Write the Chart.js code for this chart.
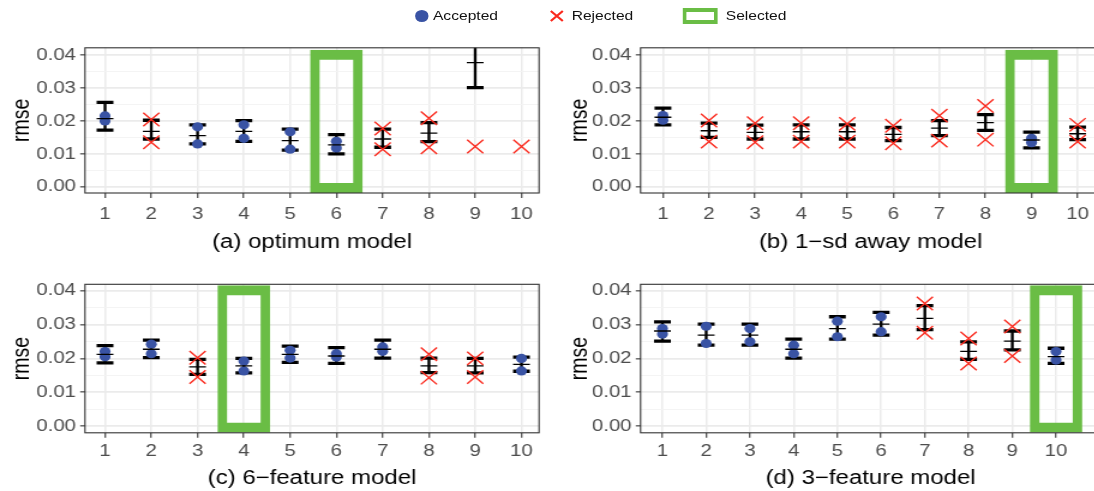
<!DOCTYPE html>
<html><head><meta charset="utf-8">
<script src="https://cdn.jsdelivr.net/npm/chart.js@4.4.0/dist/chart.umd.min.js"></script>
<style>
html,body{margin:0;padding:0;background:#fff;overflow:hidden;width:1094px;height:491px;}
#stage{position:absolute;left:0;top:0;width:925px;height:491px;transform:scaleX(1.2);transform-origin:0 0;font-family:'Liberation Sans',Arial,sans-serif;}
canvas{position:absolute;}
.lg{position:absolute;font-size:13px;line-height:16px;top:8px;color:#111;white-space:nowrap;}
</style></head><body>
<div id="stage">
  <div style="position:absolute;left:345.6px;top:10.2px;width:11.7px;height:11.7px;border-radius:50%;background:#3953a4;"></div>
  <div class="lg" style="left:360.8px">Accepted</div>
  <svg style="position:absolute;left:458px;top:10px" width="12" height="12" viewBox="0 0 12 12"><path d="M1 1L11 11M11 1L1 11" stroke="#fa2a1e" stroke-width="1.8" fill="none"/></svg>
  <div class="lg" style="left:476.4px">Rejected</div>
  <div style="position:absolute;left:568.9px;top:7.7px;width:29.4px;height:16.7px;box-sizing:border-box;border-style:solid;border-color:#6abd45;border-width:4px 3.4px;"></div>
  <div class="lg" style="left:604.8px">Selected</div>

  <canvas id="ca" width="452" height="230" style="left:0;top:30px"></canvas>
  <canvas id="cb" width="458" height="230" style="left:462.5px;top:30px"></canvas>
  <canvas id="cc" width="452" height="226" style="left:0;top:265px"></canvas>
  <canvas id="cd" width="458" height="226" style="left:462.5px;top:265px"></canvas>
</div>
<script>
// ---------------- data ----------------
const models = [1,2,3,4,5,6,7,8,9,10];
const yMajor = [0, 0.01, 0.02, 0.03, 0.04];
const yMinor = [0.005, 0.015, 0.025, 0.035];
const titles = ['(a) optimum model', '(b) 1\u2212sd away model', '(c) 6\u2212feature model', '(d) 3\u2212feature model'];

// (a) optimum model
const aMean   = [0.0207,0.0168,0.0155,0.0168,0.0140,0.0127,0.0145,0.0163,0.0377,null];
const aLow    = [0.0172,0.0145,0.0130,0.0138,0.0111,0.0100,0.0120,0.0137,0.0301,null];
const aHigh   = [0.0256,0.0202,0.0188,0.0201,0.0175,0.0158,0.0175,0.0195,0.0453,null];
const aPtHigh = [0.0215,0.0204,0.0182,0.0188,0.0167,0.0138,0.0177,0.0208,0.0122,0.0122];
const aPtLow  = [0.0200,0.0135,0.0130,0.0147,0.0114,0.0118,0.0114,0.0120,null,null];
const aAccepted = [1,0,1,1,1,1,0,0,0,0];
const aSelected = 6;

// (b) 1-sd away model
const bMean   = [0.0211,0.0170,0.0165,0.0167,0.0167,0.0159,0.0178,0.0195,0.0142,0.0161];
const bLow    = [0.0188,0.0150,0.0145,0.0145,0.0145,0.0140,0.0155,0.0171,0.0118,0.0143];
const bHigh   = [0.0239,0.0193,0.0187,0.0188,0.0188,0.0180,0.0201,0.0219,0.0166,0.0181];
const bPtHigh = [0.0216,0.0201,0.0193,0.0193,0.0191,0.0185,0.0216,0.0245,0.0147,0.0188];
const bPtLow  = [0.0202,0.0137,0.0135,0.0137,0.0137,0.0132,0.0140,0.0143,0.0134,0.0137];
const bAccepted = [1,0,0,0,0,0,0,0,1,0];
const bSelected = 9;

// (c) 6-feature model
const cMean   = [0.0212,0.0227,0.0175,0.0178,0.0212,0.0207,0.0227,0.0178,0.0178,0.0182];
const cLow    = [0.0187,0.0202,0.0153,0.0157,0.0188,0.0185,0.0201,0.0158,0.0157,0.0162];
const cHigh   = [0.0238,0.0254,0.0197,0.0200,0.0236,0.0232,0.0254,0.0201,0.0200,0.0204];
const cPtHigh = [0.0220,0.0242,0.0202,0.0192,0.0224,0.0214,0.0234,0.0212,0.0200,0.0200];
const cPtLow  = [0.0205,0.0214,0.0145,0.0163,0.0201,0.0204,0.0221,0.0143,0.0145,0.0163];
const cAccepted = [1,1,0,1,1,1,1,0,0,1];
const cSelected = 4;

// (d) 3-feature model
const dMean   = [0.0281,0.0269,0.0269,0.0227,0.0288,0.0301,0.0318,0.0221,0.0251,0.0205];
const dLow    = [0.0251,0.0239,0.0239,0.0201,0.0257,0.0269,0.0285,0.0197,0.0225,0.0185];
const dHigh   = [0.0308,0.0301,0.0301,0.0257,0.0323,0.0336,0.0356,0.0249,0.0281,0.0230];
const dPtHigh = [0.0288,0.0295,0.0288,0.0239,0.0310,0.0323,0.0362,0.0259,0.0294,0.0220];
const dPtLow  = [0.0272,0.0244,0.0249,0.0214,0.0264,0.0279,0.0276,0.0185,0.0207,0.0195];
const dAccepted = [1,1,1,1,1,1,0,0,0,1];
const dSelected = 10;

// ---------------- styling / layout ----------------
const FONT = "'Liberation Sans', Arial, sans-serif";
const BLUE = '#3953a4', RED = '#fa2a1e', GREEN = '#6abd45';
const RECT_TOP = 0.0416;

const boxPlugin = {
  id: 'panelBox',
  afterDraw(chart) {
    const {ctx, chartArea: a} = chart;
    ctx.save();
    ctx.strokeStyle = '#333';
    ctx.lineWidth = 1.1;
    ctx.strokeRect(a.left, a.top, a.right - a.left, a.bottom - a.top);
    ctx.restore();
  }
};

const isMajor = v => yMajor.some(t => Math.abs(t - v) < 1e-9);

function build(id, p) {
  const acc = [], rej = [], caps = [], means = [], bars = [];
  models.forEach((m, i) => {
    [p.ptHigh[i], p.ptLow[i]].forEach(v => {
      if (v == null) return;
      (p.accepted[i] ? acc : rej).push({x: m, y: v});
    });
    if (p.mean[i] != null) {
      means.push({x: m, y: p.mean[i]});
      caps.push({x: m, y: p.low[i]}, {x: m, y: p.high[i]});
      bars.push({x: m, y: [p.low[i], p.high[i]]});
    }
  });

  new Chart(document.getElementById(id), {
    type: 'scatter',
    data: {
      datasets: [
        {type: 'scatter', data: rej, order: 0, pointStyle: 'crossRot', pointRadius: 9.5,
         pointBorderWidth: 1.4, pointBorderColor: RED, pointBackgroundColor: RED},
        {type: 'scatter', data: means, order: 1, pointStyle: 'line', pointRadius: 7,
         pointBorderWidth: 1.3, pointBorderColor: '#000'},
        {type: 'scatter', data: acc, order: 2, pointStyle: 'circle', pointRadius: 4.6,
         pointBorderWidth: 0, pointBackgroundColor: BLUE, pointBorderColor: BLUE},
        {type: 'scatter', data: caps, order: 3, pointStyle: 'line', pointRadius: 7,
         pointBorderWidth: 3.3, pointBorderColor: '#000'},
        {type: 'bar', data: bars, order: 4, grouped: false, barThickness: 1.7,
         backgroundColor: '#000', borderWidth: 0, clip: 0},
        {type: 'bar', data: [{x: p.selected, y: [p.yMin, RECT_TOP]}], order: 5, grouped: false,
         categoryPercentage: 1, barPercentage: p.rectPct, backgroundColor: 'rgba(0,0,0,0)',
         borderColor: GREEN, borderWidth: {top: 10, bottom: 10, left: 8, right: 8},
         borderSkipped: false, clip: 0}
      ]
    },
    options: {
      responsive: false, animation: false, events: [], devicePixelRatio: 1,
      layout: {autoPadding: false, padding: {top: p.padTop, right: p.padRight, left: 0, bottom: 0}},
      plugins: {legend: {display: false}, tooltip: {enabled: false}},
      scales: {
        x: {
          type: 'linear', min: p.xMin, max: p.xMax, offset: false,
          afterBuildTicks: s => { s.ticks = models.map(v => ({value: v})); },
          afterFit: s => { s.height = p.xH; s.paddingLeft = 0; s.paddingRight = 0; },
          grid: {offset: false, color: '#ebebeb', lineWidth: 1.5, tickLength: 5,
                 tickColor: '#333', tickWidth: 1.1},
          border: {display: false},
          ticks: {color: '#4d4d4d', font: {family: FONT, size: 17}, padding: p.xTickPad,
                  maxRotation: 0, autoSkip: false, callback: v => String(v)},
          title: {display: true, text: p.title, color: '#000',
                  font: {family: FONT, size: 20}, padding: {top: 0, bottom: p.titlePad}}
        },
        y: {
          type: 'linear', min: p.yMin, max: p.yMax, beginAtZero: false,
          afterBuildTicks: s => { s.ticks = yMajor.concat(yMinor).sort((a, b) => a - b).map(v => ({value: v})); },
          afterFit: s => { s.width = 70.8; s.paddingTop = 0; s.paddingBottom = 0; },
          grid: {color: c => isMajor(c.tick.value) ? '#ebebeb' : '#f3f3f3',
                 lineWidth: c => isMajor(c.tick.value) ? 1.7 : 0.9,
                 tickLength: 4, tickWidth: 1.1,
                 tickColor: c => isMajor(c.tick.value) ? '#333' : 'rgba(0,0,0,0)'},
          border: {display: false},
          ticks: {color: '#4d4d4d', font: {family: FONT, size: 17}, padding: 3.5,
                  autoSkip: false,
                  callback: v => isMajor(v) ? v.toFixed(2) : ''},
          title: {display: true, text: 'rmse', color: '#000',
                  font: {family: FONT, size: 19.5}, padding: {top: p.yTitlePad, bottom: 0}}
        }
      }
    },
    plugins: [boxPlugin]
  });
}

const topRow = {yMin: -0.0019, yMax: 0.0422, padTop: 17.8, xH: 67, xTickPad: 6.5, titlePad: 5.5};
const botRow = {yMin: -0.002, yMax: 0.0419, padTop: 19.3, xH: 58.2, xTickPad: 3.5, titlePad: 1};

build('ca', Object.assign({}, topRow, {title: titles[0], mean: aMean, low: aLow, high: aHigh,
  ptHigh: aPtHigh, ptLow: aPtLow, accepted: aAccepted, selected: aSelected,
  xMin: 0.567, xMax: 10.38, padRight: 2.8, rectPct: 1.14, yTitlePad: 7}));
build('cb', Object.assign({}, topRow, {title: titles[1], mean: bMean, low: bLow, high: bHigh,
  ptHigh: bPtHigh, ptLow: bPtLow, accepted: bAccepted, selected: bSelected,
  xMin: 0.515, xMax: 10.5, padRight: 3.8, rectPct: 1.15, yTitlePad: 8.5}));
build('cc', Object.assign({}, botRow, {title: titles[2], mean: cMean, low: cLow, high: cHigh,
  ptHigh: cPtHigh, ptLow: cPtLow, accepted: cAccepted, selected: cSelected,
  xMin: 0.567, xMax: 10.38, padRight: 2.8, rectPct: 1.14, yTitlePad: 7}));
build('cd', Object.assign({}, botRow, {title: titles[3], mean: dMean, low: dLow, high: dHigh,
  ptHigh: dPtHigh, ptLow: dPtLow, accepted: dAccepted, selected: dSelected,
  xMin: 0.5, xMax: 11.02, padRight: 3.8, rectPct: 1.2, yTitlePad: 8.5}));
</script>
</body></html>
